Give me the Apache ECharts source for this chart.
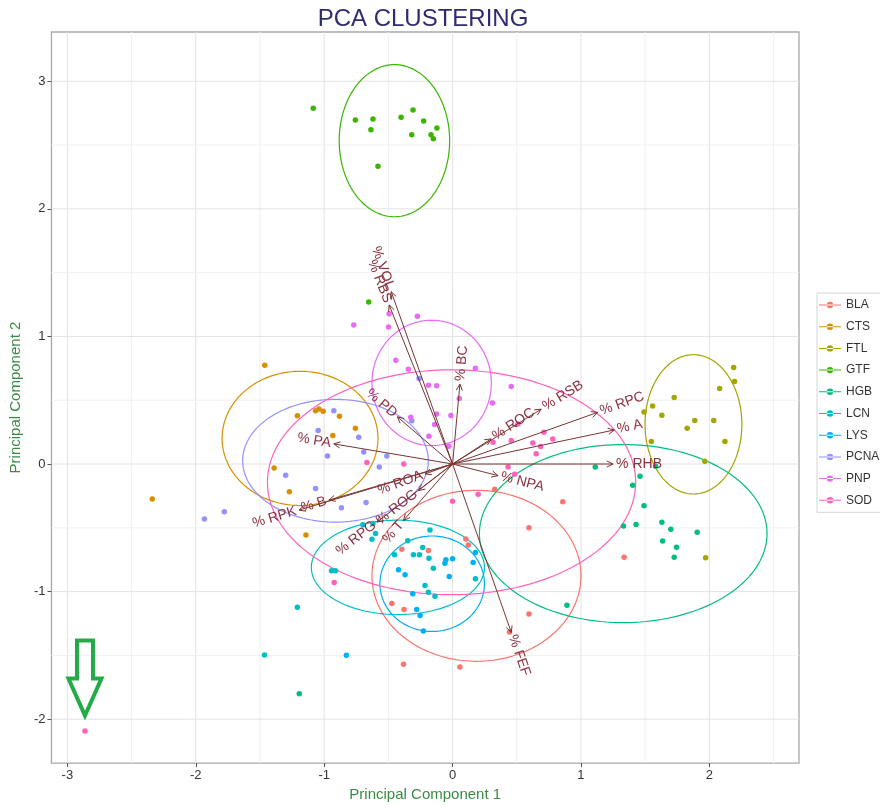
<!DOCTYPE html>
<html><head><meta charset="utf-8">
<script src="https://cdn.jsdelivr.net/npm/echarts@6/dist/echarts.min.js"></script>
<style>html,body{margin:0;padding:0;background:#fff}#c{width:880px;height:807px}</style>
</head><body><div id="c"></div>
<script>
// ---------- data ----------
const groups = ['BLA','CTS','FTL','GTF','HGB','LCN','LYS','PCNA','PNP','SOD'];
const colors = ['#F8766D','#D89000','#A3A500','#39B600','#00BF7D','#00BFC4','#00B0F6','#9590FF','#E76BF3','#FF62BC'];

const BLA = [[0.103,-0.587],[0.122,-0.634],[-0.188,-0.678],[-0.395,-0.668],[-0.473,-1.094],[-0.378,-1.140],[0.595,-0.499],[0.858,-0.296],[0.328,-0.197],[0.595,-1.175],[0.444,-1.317],[-0.382,-1.569],[0.057,-1.590],[1.336,-0.730]];
const CTS = [[-1.463,0.774],[-1.209,0.379],[-1.067,0.418],[-1.041,0.431],[-1.008,0.413],[-0.881,0.374],[-0.757,0.281],[-0.933,0.224],[-1.390,-0.031],[-1.271,-0.218],[-2.339,-0.275],[-1.142,-0.556]];
const FTL = [[2.189,0.756],[2.196,0.647],[2.080,0.592],[1.726,0.522],[1.558,0.455],[1.491,0.408],[1.630,0.382],[1.886,0.341],[2.034,0.341],[1.827,0.281],[2.121,0.177],[1.548,0.177],[1.964,0.021],[1.971,-0.735]];
const GTF = [[-1.085,2.788],[-0.757,2.697],[-0.620,2.705],[-0.636,2.619],[-0.581,2.333],[-0.401,2.718],[-0.308,2.775],[-0.225,2.689],[-0.318,2.580],[-0.122,2.634],[-0.168,2.580],[-0.150,2.549],[-0.653,1.270]];
const HGB = [[1.111,-0.023],[1.460,-0.096],[1.403,-0.166],[1.491,-0.327],[1.331,-0.486],[1.429,-0.473],[1.630,-0.457],[1.700,-0.512],[1.905,-0.535],[1.636,-0.603],[1.744,-0.652],[1.726,-0.730],[1.581,-0.018],[0.891,-1.107],[-1.194,-1.800]];
const LCN = [[-0.698,-0.475],[-0.620,-0.467],[-0.600,-0.545],[-0.628,-0.590],[-0.943,-0.836],[-0.912,-0.836],[-0.176,-0.517],[-0.349,-0.602],[-0.452,-0.712],[-0.305,-0.712],[-0.258,-0.712],[-0.233,-0.655],[-0.184,-0.738],[-0.150,-0.816],[-0.215,-0.953],[-0.188,-1.005],[-0.137,-1.037],[0.178,-0.899],[-1.465,-1.497],[-1.209,-1.122]];
const LYS = [[-0.421,-0.829],[-0.370,-0.867],[-0.060,-0.777],[-0.052,-0.750],[0.000,-0.743],[-0.026,-0.881],[-0.310,-1.016],[-0.279,-1.140],[-0.253,-1.187],[-0.227,-1.309],[0.160,-0.772],[0.178,-0.694],[-0.827,-1.499]];
const PCNA = [[-0.925,0.418],[-1.047,0.263],[-0.731,0.210],[-0.974,0.062],[-0.692,0.094],[-0.512,0.062],[-0.571,-0.023],[-1.300,-0.088],[-1.067,-0.192],[-0.674,-0.301],[-0.866,-0.343],[-1.778,-0.374],[-1.933,-0.431],[-0.261,0.670],[-0.318,0.340]];
const PNP = [[-0.770,1.089],[-0.499,1.073],[-0.274,1.159],[-0.494,1.177],[-0.442,0.813],[-0.344,0.743],[-0.188,0.618],[-0.124,0.613],[0.178,0.751],[0.457,0.608],[0.052,0.514],[0.310,0.478],[-0.326,0.366],[-0.124,0.392],[-0.013,0.380],[-0.184,0.218],[-0.029,0.140],[-0.140,0.310]];
const SOD = [[-2.863,-2.093],[-0.922,-0.928],[-0.667,0.012],[-0.380,0.000],[0.315,0.171],[0.457,0.185],[0.509,0.314],[0.711,0.249],[0.625,0.164],[0.685,0.138],[0.651,0.080],[0.780,0.197],[0.432,-0.023],[0.483,-0.080],[0.000,-0.291],[0.199,-0.236]];
const groupPoints = [BLA,CTS,FTL,GTF,HGB,LCN,LYS,PCNA,PNP,SOD];

// ellipse per group: [centerX, centerY, radiusX, radiusY, tiltDeg]
const ellipseParams = [
  [0.186,-0.876,0.814,0.670,0],
  [-1.188,0.201,0.607,0.526,0],
  [1.876,0.311,0.377,0.546,0],
  [-0.453,2.534,0.430,0.596,0],
  [1.329,-0.545,1.120,0.698,0],
  [-0.426,-0.810,0.674,0.370,0],
  [-0.159,-0.938,0.407,0.374,0],
  [-0.912,0.026,0.723,0.481,0],
  [-0.163,0.636,0.465,0.491,0],
  [-0.008,-0.143,1.434,0.881,0]
];

// variable loadings (arrow tips)
const varNames = ['% VOL','% RBS','% BC','% ROC','% RSB','% RPC','% A','% RHB','% NPA','% FEF','% PD','% PA','% B','% RPK','% ROA','% ROG','% RPG','% T'];
const varX = [-0.478,-0.494,0.057,0.300,0.690,1.130,1.260,1.250,0.354,0.457,-0.430,-0.925,-0.963,-1.196,-0.215,-0.266,-0.589,-0.382];
const varY = [1.351,1.246,0.626,0.197,0.430,0.405,0.267,0.000,-0.091,-1.320,0.370,0.158,-0.283,-0.361,-0.078,-0.208,-0.455,-0.442];

// axes
const xMajor = [-3,-2,-1,0,1,2];
const xMinor = [-2.5,-1.5,-0.5,0.5,1.5,2.5];
const yMajor = [-2,-1,0,1,2,3];
const yMinor = [-1.5,-0.5,0.5,1.5,2.5];
const xRange = [-3.124, 2.698];
const yRange = [-2.344, 3.386];

// annotation arrow tip (data coords)
const annotTip = [[-2.863,-1.971]];

// ---------- chart ----------
const chart = echarts.init(document.getElementById('c'), null, {renderer:'canvas'});
const FONT = 'Liberation Sans, Arial, sans-serif';

const gridData = [];
xMajor.forEach(v=>gridData.push([v,0,0,1]));
xMinor.forEach(v=>gridData.push([v,0,0,0]));
yMajor.forEach(v=>gridData.push([0,v,1,1]));
yMinor.forEach(v=>gridData.push([0,v,1,0]));

const series = [];
series.push({
  type:'custom', silent:true, z:0, clip:true,
  data: gridData,
  encode:{x:0,y:1},
  renderItem:(params, api)=>{
    const cs = params.coordSys;
    const horiz = api.value(2)===1, major = api.value(3)===1;
    const stroke = major ? '#e2e2e2' : '#f0f0f0';
    if(!horiz){
      const px = api.coord([api.value(0),0])[0];
      return {type:'line', shape:{x1:px,y1:cs.y,x2:px,y2:cs.y+cs.height}, style:{stroke, lineWidth:1}};
    } else {
      const py = api.coord([0,api.value(1)])[1];
      return {type:'line', shape:{x1:cs.x,y1:py,x2:cs.x+cs.width,y2:py}, style:{stroke, lineWidth:1}};
    }
  }
});

groups.forEach((g,i)=>{
  series.push({
    name:g, type:'scatter', data:groupPoints[i], symbolSize:5.5, z:3,
    itemStyle:{color:colors[i], opacity:1}, silent:true
  });
});
groups.forEach((g,i)=>{
  series.push({
    name:g, type:'custom', z:2, silent:true, clip:true,
    data:[ellipseParams[i]],
    encode:{x:0,y:1},
    itemStyle:{color:colors[i]},
    renderItem:(params, api)=>{
      const cx=api.value(0), cy=api.value(1), rx=api.value(2), ry=api.value(3), a=api.value(4)*Math.PI/180;
      const pts=[];
      for(let k=0;k<=160;k++){
        const t=2*Math.PI*k/160;
        const x=cx+rx*Math.cos(t)*Math.cos(a)-ry*Math.sin(t)*Math.sin(a);
        const y=cy+rx*Math.cos(t)*Math.sin(a)+ry*Math.sin(t)*Math.cos(a);
        pts.push(api.coord([x,y]));
      }
      return {type:'polyline', shape:{points:pts}, style:{fill:null, stroke:colors[i], lineWidth:1.2}};
    }
  });
});

const arrowData = varNames.map((n,i)=>[varX[i],varY[i],i]);
series.push({
  type:'custom', z:4, silent:true, clip:false,
  data: arrowData, encode:{x:0,y:1},
  renderItem:(params, api)=>{
    const o = api.coord([0,0]);
    const t = api.coord([api.value(0),api.value(1)]);
    const name = varNames[api.value(2)];
    const dx=t[0]-o[0], dy=t[1]-o[1];
    const L=Math.sqrt(dx*dx+dy*dy), ux=dx/L, uy=dy/L;
    const hl=7, ha=26*Math.PI/180;
    const bx=-ux, by=-uy;
    const h1=[t[0]+hl*(bx*Math.cos(ha)-by*Math.sin(ha)), t[1]+hl*(bx*Math.sin(ha)+by*Math.cos(ha))];
    const h2=[t[0]+hl*(bx*Math.cos(-ha)-by*Math.sin(-ha)), t[1]+hl*(bx*Math.sin(-ha)+by*Math.cos(-ha))];
    const ang=Math.atan2(-dy,dx);
    const right = dx>=0;
    const gap=3;
    return {type:'group', children:[
      {type:'line', shape:{x1:o[0],y1:o[1],x2:t[0],y2:t[1]}, style:{stroke:'#7a3434', lineWidth:1}},
      {type:'polyline', shape:{points:[h1,t,h2]}, style:{stroke:'#7a3434', lineWidth:1, fill:null}},
      {type:'text', x:t[0]+ux*gap, y:t[1]+uy*gap, rotation: right?ang:ang-Math.PI,
        style:{text:name, fill:'#8b2f3f', font:'14px '+FONT, align: right?'left':'right', verticalAlign:'middle'}}
    ]};
  }
});

series.push({
  type:'custom', z:5, silent:true, clip:false,
  data: annotTip, encode:{x:0,y:1},
  renderItem:(params, api)=>{
    const p = api.coord([api.value(0),api.value(1)]);
    const rel=[[-8,-75],[8,-75],[8,-37],[16.5,-37],[0,0],[-16.5,-37],[-8,-37]];
    return {type:'polygon', shape:{points:rel.map(r=>[p[0]+r[0],p[1]+r[1]])},
      style:{fill:null, stroke:'#22ab47', lineWidth:4, lineJoin:'miter', miterLimit:10}};
  }
});

const iconPath = 'path://M0,3.5H22V4.5H0Z M7.8,4A3.2,3.2 0 1,0 14.2,4A3.2,3.2 0 1,0 7.8,4Z';

chart.setOption({
  animation:false,
  backgroundColor:'#fff',
  title:{text:'PCA CLUSTERING', left:423, top:7, textAlign:'center', padding:0,
    textStyle:{fontFamily:FONT, fontSize:24, fontWeight:'normal', color:'#2e2c6e'}},
  grid:{left:48, right:81, top:32, bottom:38, show:true, borderColor:'#a8a8a8', borderWidth:1.3, backgroundColor:'transparent'},
  legend:{orient:'vertical', left:817, top:293, padding:[5,6,5,2], itemGap:7.7, itemWidth:22, itemHeight:8,
    borderColor:'#d6d6d6', borderWidth:1, data:groups.map(g=>({name:g, icon:iconPath})),
    textStyle:{fontFamily:FONT, fontSize:12, color:'#333', lineHeight:14}, selectedMode:false},
  xAxis:{type:'value', min:xRange[0], max:xRange[1],
    name:'Principal Component 1', nameLocation:'middle', nameGap:21,
    nameTextStyle:{fontFamily:FONT, fontSize:15, color:'#3b8b45'},
    axisLine:{show:false, onZero:false},
    axisTick:{show:true, customValues:xMajor, length:4, lineStyle:{color:'#555'}},
    axisLabel:{customValues:xMajor, fontFamily:FONT, fontSize:13, color:'#333', margin:6},
    splitLine:{show:false}},
  yAxis:{type:'value', min:yRange[0], max:yRange[1],
    name:'Principal Component 2', nameLocation:'middle', nameGap:26, nameRotate:90,
    nameTextStyle:{fontFamily:FONT, fontSize:15, color:'#3b8b45'},
    axisLine:{show:false, onZero:false},
    axisTick:{show:true, customValues:yMajor, length:4, lineStyle:{color:'#555'}},
    axisLabel:{customValues:yMajor, fontFamily:FONT, fontSize:13, color:'#333', margin:6},
    splitLine:{show:false}},
  series
});
</script></body></html>
